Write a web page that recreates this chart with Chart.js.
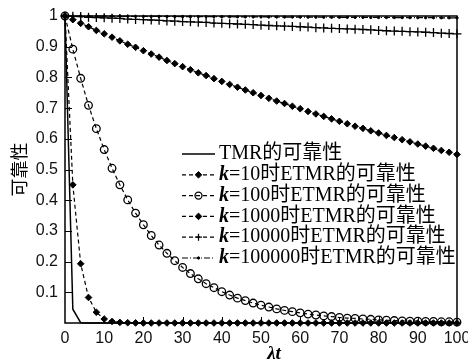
<!DOCTYPE html>
<html lang="zh">
<head>
<meta charset="UTF-8" />
<title>TMR与ETMR的可靠性</title>
<script src="https://cdn.jsdelivr.net/npm/chart.js"></script>
<style>
  html, body { margin: 0; padding: 0; background: #fff; }
  #wrap { width: 468px; height: 359px; }
</style>
</head>
<body>
<div id="wrap"><canvas id="relChart"></canvas></div>
<script>
  // λt sampling points
  const lambdaT = [0, 2, 4, 6, 8, 10, 12, 14, 16, 18,
                   20, 22, 24, 26, 28, 30, 32, 34, 36, 38,
                   40, 42, 44, 46, 48, 50, 52, 54, 56, 58,
                   60, 62, 64, 66, 68, 70, 72, 74, 76, 78,
                   80, 82, 84, 86, 88, 90, 92, 94, 96, 98, 100];

  const tmr = [1, 0.045, 0.001, 0, 0, 0, 0, 0, 0, 0,
               0, 0, 0, 0, 0, 0, 0, 0, 0, 0,
               0, 0, 0, 0, 0, 0, 0, 0, 0, 0,
               0, 0, 0, 0, 0, 0, 0, 0, 0, 0,
               0, 0, 0, 0, 0, 0, 0, 0, 0, 0, 0];

  const k10 = [1, 0.45, 0.193, 0.083, 0.035, 0.013, 0.005, 0.002, 0.001, 0.0004,
               0, 0, 0, 0, 0, 0, 0, 0, 0, 0,
               0, 0, 0, 0, 0, 0, 0, 0, 0, 0,
               0, 0, 0, 0, 0, 0, 0, 0, 0, 0,
               0, 0, 0, 0, 0, 0, 0, 0, 0, 0, 0];

  const k100 = [1, 0.892, 0.797, 0.709, 0.633, 0.565, 0.504, 0.450, 0.401, 0.358,
                0.320, 0.285, 0.254, 0.227, 0.203, 0.181, 0.161, 0.144, 0.128, 0.115,
                0.102, 0.091, 0.081, 0.073, 0.065, 0.058, 0.052, 0.046, 0.041, 0.037,
                0.033, 0.029, 0.026, 0.023, 0.021, 0.018, 0.016, 0.015, 0.013, 0.012,
                0.010, 0.009, 0.008, 0.007, 0.006, 0.006, 0.005, 0.005, 0.004, 0.004, 0.003];

  const k1000 = [1, 0.988, 0.976, 0.965, 0.953, 0.942, 0.931, 0.919, 0.908, 0.898,
                 0.887, 0.876, 0.866, 0.855, 0.845, 0.835, 0.825, 0.815, 0.806, 0.796,
                 0.787, 0.777, 0.768, 0.759, 0.750, 0.741, 0.732, 0.723, 0.715, 0.706,
                 0.698, 0.689, 0.681, 0.673, 0.665, 0.657, 0.649, 0.641, 0.634, 0.626,
                 0.619, 0.611, 0.604, 0.597, 0.590, 0.583, 0.576, 0.569, 0.562, 0.556, 0.549];

  const k10000 = [1.000, 0.999, 0.998, 0.996, 0.995, 0.994, 0.993, 0.992, 0.990, 0.989,
                  0.988, 0.987, 0.986, 0.984, 0.983, 0.982, 0.981, 0.980, 0.979, 0.977,
                  0.976, 0.975, 0.974, 0.973, 0.972, 0.970, 0.969, 0.968, 0.967, 0.966,
                  0.965, 0.964, 0.962, 0.961, 0.960, 0.959, 0.958, 0.957, 0.956, 0.955,
                  0.953, 0.952, 0.951, 0.950, 0.949, 0.948, 0.947, 0.946, 0.944, 0.943, 0.942];

  const k100000 = [1.0000, 0.9999, 0.9998, 0.9996, 0.9995, 0.9994, 0.9993, 0.9992, 0.9990, 0.9989,
                   0.9988, 0.9987, 0.9986, 0.9984, 0.9983, 0.9982, 0.9981, 0.9980, 0.9978, 0.9977,
                   0.9976, 0.9975, 0.9974, 0.9972, 0.9971, 0.9970, 0.9969, 0.9968, 0.9966, 0.9965,
                   0.9964, 0.9963, 0.9962, 0.9960, 0.9959, 0.9958, 0.9957, 0.9956, 0.9954, 0.9953,
                   0.9952, 0.9951, 0.9950, 0.9948, 0.9947, 0.9946, 0.9945, 0.9944, 0.9942, 0.9941, 0.9940];

  const seriesLabels = ["TMR的可靠性", "k=10时ETMR的可靠性", "k=100时ETMR的可靠性",
                        "k=1000时ETMR的可靠性", "k=10000时ETMR的可靠性", "k=100000时ETMR的可靠性"];

  const xTitle = "λt";
  const yTitle = "可靠性";

  const pts = arr => lambdaT.map((x, i) => ({ x: x, y: arr[i] }));

  // box, inward ticks and x title
  const frame = {
    id: "frame",
    beforeDatasetsDraw(chart) {
      const { ctx, chartArea: a, scales: { x, y } } = chart;
      ctx.save();
      ctx.strokeStyle = "#000";
      ctx.lineWidth = 1.5;
      ctx.strokeRect(a.left, a.top, a.right - a.left, a.bottom - a.top);
      ctx.lineWidth = 1;
      ctx.beginPath();
      x.ticks.forEach(t => {
        if (t.value <= 0 || t.value >= 100) return;
        const px = Math.round(x.getPixelForValue(t.value)) + 0.5;
        ctx.moveTo(px, a.bottom);
        ctx.lineTo(px, a.bottom - 6);
      });
      y.ticks.forEach(t => {
        if (t.value <= 0 || t.value >= 1) return;
        const py = Math.round(y.getPixelForValue(t.value)) + 0.5;
        ctx.moveTo(a.left, py);
        ctx.lineTo(a.left + 7, py);
      });
      ctx.stroke();
      ctx.fillStyle = "#000";
      ctx.font = 'italic bold 19px "Liberation Serif"';
      ctx.textAlign = "center";
      ctx.textBaseline = "middle";
      ctx.fillText(xTitle, (a.left + a.right) / 2 + 13, 354);
      ctx.restore();
    }
  };

  // legend with italic k
  const legendBox = {
    id: "legendBox",
    afterDraw(chart, args, opts) {
      const { ctx, chartArea: a } = chart;
      const left = a.left + opts.left;
      chart.data.datasets.forEach((ds, i) => {
        const yy = a.top + opts.top + i * opts.rowH;
        ctx.save();
        ctx.strokeStyle = "#000";
        ctx.lineWidth = ds.borderWidth;
        ctx.setLineDash(ds.borderDash || []);
        ctx.beginPath();
        ctx.moveTo(left, yy);
        ctx.lineTo(left + opts.sampleW, yy);
        ctx.stroke();
        ctx.setLineDash([]);
        if (ds.pointRadius > 0) {
          ctx.fillStyle = ds.pointBackgroundColor;
          ctx.lineWidth = ds.pointBorderWidth;
          Chart.helpers.drawPoint(ctx, {
            pointStyle: ds.pointStyle,
            radius: Math.min(ds.pointRadius, 3.5),
            borderWidth: ds.pointBorderWidth,
            rotation: 0
          }, left + opts.sampleW / 2, yy);
        }
        ctx.fillStyle = "#000";
        ctx.textBaseline = "middle";
        ctx.textAlign = "left";
        let tx = left + opts.sampleW + 4;
        let text = ds.label;
        if (text.startsWith("k")) {
          ctx.font = 'italic bold 20px "Liberation Serif"';
          ctx.fillText("k", tx, yy);
          tx += ctx.measureText("k").width;
          text = text.slice(1);
        }
        ctx.font = '20px "Liberation Serif", "Noto Sans CJK SC"';
        ctx.fillText(text, tx, yy);
        ctx.restore();
      });
    }
  };

  const ctx = document.getElementById("relChart").getContext("2d");
  const relChart = new Chart(ctx, {
    type: "line",
    data: {
      datasets: [
        {
          label: seriesLabels[0],
          data: pts(tmr),
          borderColor: "#000",
          borderWidth: 1.5,
          borderDash: [],
          pointRadius: 0
        },
        {
          label: seriesLabels[1],
          data: pts(k10),
          borderColor: "#000",
          borderWidth: 1.2,
          borderDash: [4, 3],
          pointStyle: "rectRot",
          pointRadius: 3.3,
          pointBackgroundColor: "#000",
          pointBorderColor: "#000",
          pointBorderWidth: 1
        },
        {
          label: seriesLabels[2],
          data: pts(k100),
          borderColor: "#000",
          borderWidth: 1.2,
          borderDash: [4, 3],
          pointStyle: "circle",
          pointRadius: 3.8,
          pointBackgroundColor: "rgba(0,0,0,0)",
          pointBorderColor: "#000",
          pointBorderWidth: 1.3
        },
        {
          label: seriesLabels[3],
          data: pts(k1000),
          borderColor: "#000",
          borderWidth: 1.2,
          borderDash: [4, 3],
          pointStyle: "rectRot",
          pointRadius: 3.3,
          pointBackgroundColor: "#000",
          pointBorderColor: "#000",
          pointBorderWidth: 1
        },
        {
          label: seriesLabels[4],
          data: pts(k10000),
          borderColor: "#000",
          borderWidth: 1.2,
          borderDash: [4, 3],
          pointStyle: "cross",
          pointRadius: 4.5,
          pointBackgroundColor: "#000",
          pointBorderColor: "#000",
          pointBorderWidth: 1.3
        },
        {
          label: seriesLabels[5],
          data: pts(k100000),
          borderColor: "#000",
          borderWidth: 1.2,
          borderDash: [6, 2, 1, 2],
          pointStyle: "circle",
          pointRadius: 1.2,
          pointBackgroundColor: "#000",
          pointBorderColor: "#000",
          pointBorderWidth: 1
        }
      ]
    },
    options: {
      responsive: true,
      maintainAspectRatio: false,
      animation: false,
      clip: false,
      layout: { padding: { left: 0, right: 11, top: 16, bottom: 0 } },
      elements: { line: { tension: 0 } },
      scales: {
        x: {
          type: "linear",
          min: 0,
          max: 100,
          grid: { display: false, drawTicks: false },
          border: { display: false },
          ticks: {
            stepSize: 10,
            padding: 6,
            color: "#111",
            maxRotation: 0,
            font: { family: "Liberation Sans", size: 16 }
          },
          afterFit(scale) {
            scale.height = 36;
            scale.paddingLeft = 0;
            scale.paddingRight = 0;
          }
        },
        y: {
          min: 0,
          max: 1,
          grid: { display: false, drawTicks: false },
          border: { display: false },
          ticks: {
            stepSize: 0.1,
            padding: 7,
            color: "#111",
            font: { family: "Liberation Sans", size: 16 },
            callback: v => (v === 0 ? "" : String(Math.round(v * 10) / 10))
          },
          title: {
            display: true,
            text: yTitle,
            color: "#000",
            padding: { top: 8 },
            font: { family: "Noto Sans CJK SC", size: 18 }
          },
          afterFit(scale) {
            scale.width = 65;
            scale.paddingTop = 0;
            scale.paddingBottom = 0;
          }
        }
      },
      plugins: {
        legend: { display: false },
        tooltip: { enabled: false },
        legendBox: { left: 117, top: 138, rowH: 20.8, sampleW: 33 }
      }
    },
    plugins: [frame, legendBox]
  });
</script>
</body>
</html>
